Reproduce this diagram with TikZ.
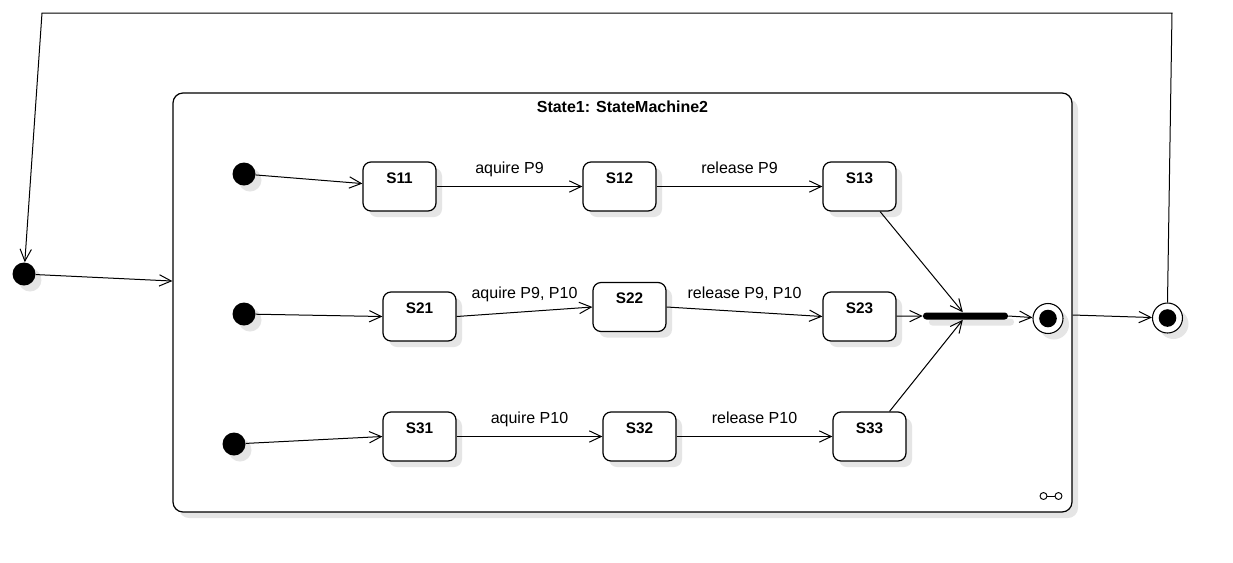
\documentclass[tikz,border=0pt]{standalone}
\usepackage{fontspec}
\setmainfont{Liberation Sans}
\usetikzlibrary{arrows.meta,shadows}
\begin{document}
\begin{tikzpicture}[x=0.75pt,y=-0.75pt,
  shd/.style={drop shadow={shadow xshift=4.5pt,shadow yshift=-4.5pt,fill=black!10,opacity=1}},
  stbox/.style={draw,line width=0.9pt,rounded corners=6pt,fill=white,
    minimum width=54.75pt,minimum height=36.75pt,inner sep=0pt,
    text height=8.2pt,text depth=12.75pt,
    font=\bfseries\fontsize{11.5}{13}\selectfont,shd},
  initst/.style={circle,fill=black,minimum size=17.25pt,inner sep=0pt,shd},
  finst/.style={circle,draw,line width=0.8pt,fill=white,minimum size=22.5pt,inner sep=0pt,shd,
    path picture={\fill[black] (path picture bounding box.center) circle (6.6pt);}},
  tr/.style={-{Straight Barb[length=9pt,width=8.5pt]},line width=0.75pt},
  lbl/.style={font=\fontsize{12}{14}\selectfont,midway,above=9.6pt,inner sep=0pt,text depth=0pt},
]
\useasboundingbox (0,0) rectangle (1233,562);

% composite state
\node[draw,line width=0.9pt,rounded corners=7.5pt,fill=white,minimum width=674.25pt,
  minimum height=314.25pt,inner sep=0pt,shd] (cont) at (622.5,302.5) {};
\node[font=\bfseries\fontsize{12}{14}\selectfont,inner sep=0pt] (title)
  at ([yshift=-10.9pt]cont.north) {State1: StateMachine2};

% icon
\draw[line width=0.7pt] (1043.5,496) circle (2.6pt) (1058.5,496) circle (2.6pt);
\draw[line width=0.7pt] (1047,496) -- (1055,496);

% outer pseudo states
\node[initst] (oi) at (24,274) {};
\node[finst] (ofin) at (1167.5,318) {};
\coordinate (c1) at (1172,13);
\coordinate (c2) at (42,13);

% inner initial states
\node[initst] (i1) at (244,174) {};
\node[initst] (i2) at (244,314) {};
\node[initst] (i3) at (234,444) {};

% states
\node[stbox] (s11) at (399.5,186.5) {S11};
\node[stbox] (s12) at (619.5,186.5) {S12};
\node[stbox] (s13) at (859.5,186.5) {S13};
\node[stbox] (s21) at (419.5,316.5) {S21};
\node[stbox] (s22) at (629.5,307) {S22};
\node[stbox] (s23) at (859.5,316.5) {S23};
\node[stbox] (s31) at (419.5,436.5) {S31};
\node[stbox] (s32) at (639.5,436.5) {S32};
\node[stbox] (s33) at (869.5,436.5) {S33};

% join bar and inner final
\node[fill=black,rounded corners=2.5pt,minimum width=63.75pt,minimum height=5.25pt,
  inner sep=0pt,shd] (join) at (965.5,316) {};
\node[finst] (fin) at (1048,318.5) {};

% transitions
\draw[tr] (ofin.north) -- (c1) -- (c2) -- (oi);
\draw[tr] (oi) -- ([yshift=16.1pt]cont.west);
\draw[tr] (cont.east |- 0,315) -- (ofin);

\draw[tr] (i1) -- ([yshift=2.2pt]s11.west);
\draw[tr] (i2) -- (s21.west);
\draw[tr] (i3) -- (s31.west);

\draw[tr] (s11) -- node[lbl] {aquire P9} (s12);
\draw[tr] (s12) -- node[lbl] {release P9} (s13);
\draw[tr] (s21.east) -- node[lbl] {aquire P9, P10} (s22.west);
\draw[tr] (s22.east) -- node[lbl] {release P9, P10} (s23.west);
\draw[tr] (s31) -- node[lbl] {aquire P10} (s32);
\draw[tr] (s32) -- node[lbl] {release P10} (s33);

\draw[tr] (s13) -- ([xshift=-2pt]join.north);
\draw[tr] (s23) -- (join.west);
\draw[tr] (s33) -- ([xshift=-2pt]join.south);
\draw[tr] (join.east) -- (fin);
\end{tikzpicture}
\end{document}
